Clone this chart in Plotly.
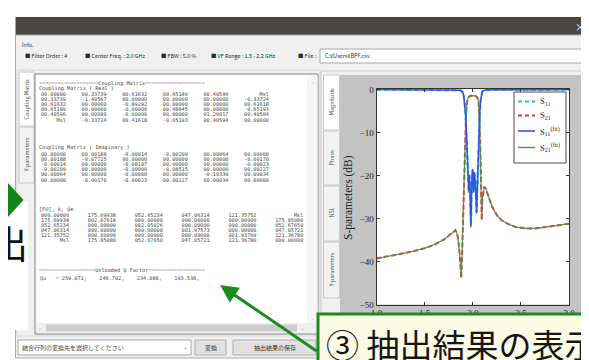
import plotly.graph_objects as go

W, H = 589, 360

# ---------------- data ----------------
f_s11 = [1.00, 1.20, 1.40, 1.60, 1.70, 1.78, 1.83, 1.86, 1.88,
         1.895, 1.905, 1.915, 1.925, 1.935, 1.945,
         1.952, 1.958, 1.966, 1.974, 1.981, 1.989, 1.998,
         2.008, 2.017, 2.028, 2.040, 2.050, 2.058, 2.066, 2.074, 2.082, 2.090,
         2.100, 2.115, 2.14, 2.20, 2.35, 2.60, 3.00]
s11_meas = [-0.00, -0.01, -0.01, -0.02, -0.03, -0.05, -0.08, -0.14, -0.25,
            -0.6, -1.3, -2.8, -5.5, -10.0, -16.0,
            -20.5, -24.0, -20.0, -24.5, -31.5, -22.5, -18.8,
            -23.5, -19.5, -22.0, -28.5, -21.5, -15.0, -9.0, -5.0, -2.5, -1.1,
            -0.45, -0.18, -0.08, -0.04, -0.02, -0.01, -0.01]
s11_fit = [-0.00, -0.01, -0.01, -0.02, -0.03, -0.05, -0.08, -0.14, -0.26,
           -0.6, -1.3, -2.9, -5.6, -10.2, -16.2,
           -20.8, -23.5, -19.8, -25.0, -32.0, -22.0, -18.5,
           -24.0, -19.2, -22.5, -28.8, -21.0, -14.8, -8.9, -4.9, -2.4, -1.1,
           -0.45, -0.18, -0.08, -0.04, -0.02, -0.01, -0.01]

f_s21 = [1.00, 1.10, 1.20, 1.30, 1.40, 1.50, 1.60, 1.70,
         1.75, 1.79, 1.82, 1.835, 1.85, 1.865, 1.88,
         1.89, 1.90, 1.91, 1.92, 1.93, 1.94, 1.95,
         1.97, 2.00, 2.03, 2.05, 2.06, 2.07, 2.08,
         2.087, 2.093, 2.10, 2.11, 2.12, 2.135, 2.16,
         2.20, 2.25, 2.30, 2.37, 2.45, 2.55, 2.65,
         2.75, 2.85, 2.95, 3.00]
s21_meas = [-39.3, -38.9, -38.5, -38.0, -37.5, -36.9, -36.1, -34.9,
            -34.0, -33.2, -32.7, -33.3, -35.0, -38.5, -43.9,
            -38.0, -30.0, -21.0, -12.0, -6.0, -3.0, -2.0,
            -1.5, -1.4, -1.5, -1.9, -3.0, -7.0, -15.0,
            -23.0, -30.4, -25.5, -23.2, -22.6, -23.0, -24.8,
            -27.2, -29.2, -30.4, -31.3, -32.0, -32.3, -32.3,
            -32.0, -31.7, -31.3, -31.2]
s21_fit = [-39.3, -38.9, -38.5, -38.0, -37.5, -36.9, -36.1, -34.9,
           -34.0, -33.2, -32.8, -33.4, -35.1, -38.6, -43.6,
           -37.8, -29.8, -20.8, -11.9, -5.9, -3.0, -2.0,
           -1.5, -1.4, -1.5, -1.9, -3.0, -7.1, -15.2,
           -23.2, -30.2, -25.4, -23.1, -22.6, -23.0, -24.8,
           -27.2, -29.2, -30.4, -31.3, -32.0, -32.3, -32.3,
           -32.0, -31.7, -31.3, -31.2]

x_ticks = [1.0, 1.5, 2.0, 2.5, 3.0]
x_tick_labels = ["1.0", "1.5", "2.0", "2.5", "3.0"]
y_ticks = [0, -10, -20, -30, -40, -50]
y_tick_labels = ["0", "\u221210", "\u221220", "\u221230", "\u221240", "\u221250"]

legend_labels = ["S<sub>11</sub>", "S<sub>21</sub>",
                 "S<sub>11</sub><sup>(fit)</sup>", "S<sub>21</sub><sup>(fit)</sup>"]

info_items = ["\u25a0 Filter Order : 4", "\u25a0 Center Freq. : 2.0 GHz", "\u25a0 FBW : 5.0 %",
              "\u25a0 VF Range : 1.8 - 2.2 GHz", "\u25a0 File :"]
file_path = "C:\u00a5Users\u00a5BPF.csv"

real_rows = [
    ["00.00000", "00.33739", "00.61632", "00.65189", "00.40596", "Msl"],
    ["00.33739", "-1.40567", "00.00000", "00.00000", "00.00000", "-0.33724"],
    ["00.61632", "00.00000", "-0.89292", "00.00000", "00.00000", "00.61618"],
    ["00.65189", "00.00000", "-0.00000", "00.48845", "00.00000", "-0.65193"],
    ["00.40596", "00.00000", "-0.00000", "00.00000", "01.26617", "00.40584"],
    ["Msl", "-0.33724", "00.41618", "-0.65193", "00.40594", "00.00000"],
]
imag_rows = [
    ["00.00000", "00.00188", "-0.00014", "-0.00209", "00.00064", "00.00000"],
    ["00.00188", "-0.07725", "00.00000", "00.00000", "00.00000", "-0.00170"],
    ["-0.00014", "00.00000", "-0.08107", "00.00000", "00.00000", "-0.00023"],
    ["-0.00209", "00.00000", "-0.00000", "-0.08515", "00.00000", "00.00227"],
    ["00.00064", "00.00000", "-0.00000", "00.00000", "-0.10339", "00.00034"],
    ["00.00000", "-0.00170", "-0.00023", "00.00227", "00.00034", "00.00000"],
]
fo_rows = [
    ["000.00000", "175.69938", "052.65234", "047.06314", "121.35752", "Msl"],
    ["175.69938", "002.07618", "000.00000", "000.00000", "000.00000", "175.85080"],
    ["052.65234", "000.00000", "002.05026", "000.00000", "000.00000", "052.67650"],
    ["047.06314", "000.00000", "000.00000", "001.97573", "000.00000", "047.05721"],
    ["121.35752", "000.00000", "000.00000", "000.00000", "001.93769", "121.36780"],
    ["Msl", "175.85080", "052.67650", "047.05721", "121.36780", "000.00000"],
]
qu_values = ["259.071", "246.702", "234.088", "193.538"]

# ---------------- helpers (pixel -> paper) ----------------
def X(p):
    return p / W

def Y(p):
    return 1 - p / H

UI = "Noto Sans CJK JP"
MONO = "DejaVu Sans Mono"
SERIF = "Liberation Serif"
NB = "\u00a0"

shapes = []
annotations = []

def rect(x0, y0, x1, y1, fill=None, line=None, lw=1, layer="below"):
    shapes.append(dict(type="rect", xref="paper", yref="paper",
                       x0=X(x0), x1=X(x1), y0=Y(y1), y1=Y(y0),
                       fillcolor=fill or "rgba(0,0,0,0)",
                       line=dict(color=line or "rgba(0,0,0,0)", width=lw if line else 0),
                       layer=layer))

def seg(x0, y0, x1, y1, color, w=1, dash="solid", layer="below"):
    shapes.append(dict(type="line", xref="paper", yref="paper",
                       x0=X(x0), x1=X(x1), y0=Y(y0), y1=Y(y1),
                       line=dict(color=color, width=w, dash=dash), layer=layer))

def text(s, x, y, size, color="#3a3a3a", family=UI, xanchor="left", yanchor="middle", angle=0, bg=None):
    annotations.append(dict(text=s, xref="paper", yref="paper", x=X(x), y=Y(y),
                            xanchor=xanchor, yanchor=yanchor, showarrow=False,
                            textangle=angle, borderpad=0,
                            bgcolor=bg if bg else "rgba(0,0,0,0)",
                            font=dict(size=size, color=color, family=family)))

def row_str(cells, width, pitch):
    return "".join(c.rjust(width).ljust(pitch) for c in cells).rstrip().replace(" ", NB)

# ---------------- window chrome ----------------
rect(7.5, 9, 582, 27, fill="#4a4642")
text("\u00d7", 572, 18, 10, color="#f2f2f2", xanchor="center")
rect(7.5, 27, 582, 350, fill="#f0f0f0", line="#a9a9a9")
text("Info.", 13, 37, 5.5)
info_x = [16, 76, 152, 202, 289]
for s, xx in zip(info_items, info_x):
    text(s.replace(" ", NB), xx, 48, 5.4, color="#2a2a2a")
rect(312, 41, 575, 55, fill="#ffffff", line="#a8a8a8")
text(file_path, 316, 48, 5.5, color="#333333")

# left panel
rect(9, 62, 312, 328, fill="#f0f0f0", line="#d6d6d6")
rect(11, 64, 26, 118, fill="#ffffff", line="#c8c8c8")
rect(11, 119, 26, 175, fill="#f3f3f3", line="#c8c8c8")
text("Coupling Matrix", 18.5, 91, 5.5, color="#555555", xanchor="center", angle=-90)
text("Y-parameters", 18.5, 147, 5.5, color="#555555", xanchor="center", angle=-90)
rect(27, 66, 310, 326, fill="#ffffff", line="#7f7f7f")
rect(299, 67, 309.5, 315, fill="#f6f6f6")
text("\u02c4", 304, 74, 5, color="#9a9a9a", xanchor="center")
text("\u02c5", 304, 309, 5, color="#9a9a9a", xanchor="center")
rect(28, 315, 309.5, 325, fill="#f0f0f0")
rect(38, 316.5, 289, 323.5, fill="#cdcdcd")
text("\u2039", 32, 320, 6, color="#9a9a9a", xanchor="center")
text("\u203a", 295, 320, 6, color="#9a9a9a", xanchor="center")

# matrix text
MC = "#454545"
MS = 5.2
text(("=" * 19 + "Coupling Matrix" + "=" * 19), 30, 75, MS, color=MC, family=MONO)
text("Coupling Matrix ( Real )".replace(" ", NB), 30, 80, MS, color=MC, family=MONO)
for i, r in enumerate(real_rows):
    text(row_str(r, 8, 13), 32, 85.5 + 5.2 * i, MS, color=MC, family=MONO)
text("Coupling Matrix ( Imaginary )".replace(" ", NB), 30, 140, MS, color=MC, family=MONO)
for i, r in enumerate(imag_rows):
    text(row_str(r, 8, 13), 32, 145.5 + 5.2 * i, MS, color=MC, family=MONO)
text("[FO], k, Qe".replace(" ", NB), 30, 201, MS, color=MC, family=MONO)
for i, r in enumerate(fo_rows):
    text(row_str(r, 9, 15), 32, 206.5 + 5.0 * i, MS, color=MC, family=MONO)
text(("=" * 18 + "Unloaded Q Factor" + "=" * 18), 30, 262, MS, color=MC, family=MONO)
text(("Qu" + NB * 3 + "=" + NB + ("," + NB * 4).join(qu_values) + ","), 31, 270, MS, color=MC, family=MONO)

# bottom controls
rect(10, 332, 183, 347, fill="#ffffff", line="#a6a6a6")
text("結合行列の変換先を選択してください", 13, 339.5, 6, color="#444444")
text("\u2304", 177, 338, 6, color="#777777", xanchor="center")
rect(187, 332, 218, 347, fill="#e1e1e1", line="#adadad")
text("変換", 202.5, 339.5, 6, color="#333333", xanchor="center")
rect(225, 332, 308, 347, fill="#e1e1e1", line="#adadad")
text("抽出結果の保存", 266.5, 339.5, 6, color="#333333", xanchor="center")

# right panel
rect(313, 63, 578, 320, fill="#f0f0f0", line="#cfcfcf")
rect(315.5, 67, 331.5, 122, fill="#ffffff", line="#c8c8c8")
rect(315.5, 123, 331.5, 177, fill="#f3f3f3", line="#c8c8c8")
rect(315.5, 178, 331.5, 233, fill="#f3f3f3", line="#c8c8c8")
rect(315.5, 234, 331.5, 290, fill="#f3f3f3", line="#c8c8c8")
for lab, cy in zip(["Magnitude", "Phase", "NSL", "Y-parameters"], [94, 150, 205, 262]):
    text(lab, 323.5, cy, 5.5, color="#555555", xanchor="center", angle=-90)
# matplotlib figure background and axes background
rect(332, 67, 574, 320, fill="#c3c3c3")
rect(368.5, 80.5, 561, 296.5, fill="#ffffff")
text("S-parameters (dB)", 340, 190, 11.5, color="#1e1e1e", family=SERIF, xanchor="center", angle=-90)

# ---------------- legend (drawn like the matplotlib box) ----------------
rect(506, 84, 558, 155, fill="#ffffff", line="#4a4a4a", layer="above")
leg_y = [93.5, 107.5, 123, 139.5]
leg_style = [("#1fc3cf", "dash", 2.0), ("#d83a2a", "dash", 2.0),
             ("#3352e2", "solid", 1.6), ("#4f8f5a", "solid", 1.4)]
for (col, dsh, w), yy, lab in zip(leg_style, leg_y, legend_labels):
    seg(510, yy, 527, yy, col, w=w, dash=("4px,3px" if dsh == "dash" else "solid"), layer="above")
    text(lab, 531, yy, 8.5, color="#222222", family=SERIF)

# ---------------- overlays: callouts ----------------
rect(0, 194, 20, 322, fill="#ffffff", layer="above")
shapes.append(dict(type="path", xref="paper", yref="paper",
                   path=f"M {X(0)},{Y(175)} L {X(15.5)},{Y(192)} L {X(0)},{Y(209)} Z",
                   fillcolor="#12851a", line=dict(width=0), layer="above"))
text("出", 21, 233, 38, color="#111111", xanchor="right")

rect(310, 306, 595, 365, fill="#fbfbe6", line="#1d8a1d", lw=3, layer="above")
text("③ 抽出結果の表示", 317, 336, 33, color="#161616")

annotations.append(dict(x=X(212), y=Y(277), xref="paper", yref="paper",
                        ax=98, ay=67, axref="pixel", ayref="pixel",
                        text="", showarrow=True, arrowhead=2, arrowsize=1.2,
                        arrowwidth=3, arrowcolor="#1d8a1d", standoff=0))

# ---------------- figure ----------------
fig = go.Figure()
fig.add_trace(go.Scatter(x=f_s21, y=s21_meas, mode="lines", name="S21",
                         line=dict(color="#d8452e", width=2.0, dash="5px,2.5px"), showlegend=False))
fig.add_trace(go.Scatter(x=f_s21, y=s21_fit, mode="lines", name="S21 fit",
                         line=dict(color="#5a8a55", width=1.1), showlegend=False))
fig.add_trace(go.Scatter(x=f_s11, y=s11_meas, mode="lines", name="S11",
                         line=dict(color="#1fc3cf", width=2.2, dash="5px,2.5px"), showlegend=False))
fig.add_trace(go.Scatter(x=f_s11, y=s11_fit, mode="lines", name="S11 fit",
                         line=dict(color="#3352e2", width=1.5), showlegend=False))

axis_common = dict(showline=True, linecolor="#333333", linewidth=1, mirror="ticks",
                   ticks="inside", ticklen=3, tickcolor="#333333", showgrid=False,
                   zeroline=False, automargin=False,
                   tickfont=dict(family=SERIF, size=9, color="#222222"))
fig.update_xaxes(domain=[X(368.5), X(561)], range=[1.0, 3.0],
                 tickvals=x_ticks, ticktext=x_tick_labels, **axis_common)
fig.update_yaxes(domain=[Y(296.5), Y(80.5)], range=[-50.0, 0.25],
                 tickvals=y_ticks, ticktext=y_tick_labels, **axis_common)

fig.update_layout(width=W, height=H, autosize=False,
                  margin=dict(l=0, r=0, t=0, b=0, pad=0),
                  paper_bgcolor="#ffffff", plot_bgcolor="#ffffff",
                  showlegend=False, shapes=shapes, annotations=annotations)

fig.write_html("out.html")
